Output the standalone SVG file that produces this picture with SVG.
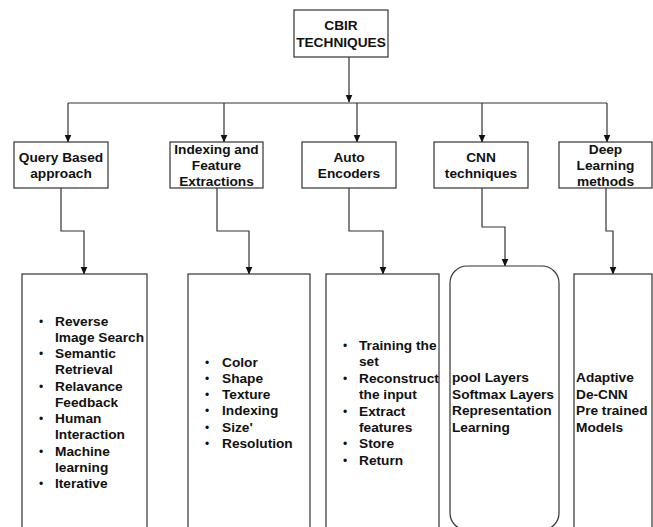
<svg xmlns="http://www.w3.org/2000/svg" width="653" height="527" viewBox="0 0 653 527">
  <defs>
    <marker id="arrow" viewBox="0 0 8 8" refX="7.5" refY="4" markerWidth="8" markerHeight="8" markerUnits="userSpaceOnUse" orient="auto">
      <path d="M0,0.5 L8,4 L0,7.5 Z" fill="#111"/>
    </marker>
  </defs>
  <style>
    .box { fill: #fff; stroke: #333; stroke-width: 1.2; }
    .edge { fill: none; stroke: #333; stroke-width: 1.2; marker-end: url(#arrow); }
    .link { fill: none; stroke: #333; stroke-width: 1.2; }
    text { font-family: "Liberation Sans", Arial, sans-serif; font-weight: bold; font-size: 13.7px; fill: #111; }
    .c { text-anchor: middle; }
    .dot { font-weight: normal; font-size: 12px; }
  </style>
  <rect width="653" height="527" fill="#fff"/>

  <!-- connectors -->
  <g id="connectors">
    <path class="edge" d="M349,57 V102"/>
    <path class="link" d="M68,103 H607"/>
    <path class="edge" d="M68,103 V142"/>
    <path class="edge" d="M224,103 V142"/>
    <path class="edge" d="M357,103 V142"/>
    <path class="edge" d="M482,103 V142"/>
    <path class="edge" d="M607,103 V142"/>
    <path class="edge" d="M61,188 V231 H84 V274"/>
    <path class="edge" d="M217,188 V231 H249 V274"/>
    <path class="edge" d="M349,188 V231 H383 V274"/>
    <path class="edge" d="M482,188 V227 H505 V266"/>
    <path class="edge" d="M606,188 V231 H613 V274"/>
  </g>

  <!-- root -->
  <g id="root">
    <rect class="box" x="294" y="10" width="94" height="47"/>
    <text class="c" x="341" y="30">CBIR</text>
    <text class="c" x="341" y="47">TECHNIQUES</text>
  </g>

  <!-- categories -->
  <g id="query">
    <rect class="box" x="14" y="142" width="94" height="46"/>
    <text class="c" x="61" y="162">Query Based</text>
    <text class="c" x="61" y="178">approach</text>
  </g>
  <g id="indexing">
    <rect class="box" x="170" y="142" width="93" height="46"/>
    <text class="c" x="216.5" y="154">Indexing and</text>
    <text class="c" x="216.5" y="170">Feature</text>
    <text class="c" x="216.5" y="186">Extractions</text>
  </g>
  <g id="auto">
    <rect class="box" x="302" y="142" width="94" height="46"/>
    <text class="c" x="349" y="162">Auto</text>
    <text class="c" x="349" y="178">Encoders</text>
  </g>
  <g id="cnn">
    <rect class="box" x="434" y="142" width="94" height="46"/>
    <text class="c" x="481" y="162">CNN</text>
    <text class="c" x="481" y="178">techniques</text>
  </g>
  <g id="deep">
    <rect class="box" x="559" y="142" width="93" height="46"/>
    <text class="c" x="605.5" y="154">Deep</text>
    <text class="c" x="605.5" y="170">Learning</text>
    <text class="c" x="605.5" y="186">methods</text>
  </g>

  <!-- detail panels -->
  <g id="query-items">
    <rect class="box" x="22" y="274" width="125" height="270"/>
    <g class="dot-col">
      <text class="dot" x="39" y="325.7">•</text>
      <text class="dot" x="39" y="358.2">•</text>
      <text class="dot" x="39" y="390.7">•</text>
      <text class="dot" x="39" y="423.2">•</text>
      <text class="dot" x="39" y="455.7">•</text>
      <text class="dot" x="39" y="488.2">•</text>
    </g>
    <text x="55" y="325.7">Reverse</text>
    <text x="55" y="341.9">Image Search</text>
    <text x="55" y="358.2">Semantic</text>
    <text x="55" y="374.4">Retrieval</text>
    <text x="55" y="390.7">Relavance</text>
    <text x="55" y="406.9">Feedback</text>
    <text x="55" y="423.2">Human</text>
    <text x="55" y="439.4">Interaction</text>
    <text x="55" y="455.7">Machine</text>
    <text x="55" y="471.9">learning</text>
    <text x="55" y="488.2">Iterative</text>
  </g>
  <g id="indexing-items">
    <rect class="box" x="188" y="274" width="122" height="270"/>
    <text class="dot" x="205" y="366.7">•</text>
    <text class="dot" x="205" y="382.9">•</text>
    <text class="dot" x="205" y="399.1">•</text>
    <text class="dot" x="205" y="415.3">•</text>
    <text class="dot" x="205" y="431.5">•</text>
    <text class="dot" x="205" y="447.7">•</text>
    <text x="222" y="366.7">Color</text>
    <text x="222" y="382.9">Shape</text>
    <text x="222" y="399.1">Texture</text>
    <text x="222" y="415.3">Indexing</text>
    <text x="222" y="431.5">Size'</text>
    <text x="222" y="447.7">Resolution</text>
  </g>
  <g id="auto-items">
    <rect class="box" x="326" y="274" width="113" height="270"/>
    <text class="dot" x="343" y="350">•</text>
    <text class="dot" x="343" y="382.8">•</text>
    <text class="dot" x="343" y="415.6">•</text>
    <text class="dot" x="343" y="448.4">•</text>
    <text class="dot" x="343" y="464.8">•</text>
    <text x="359" y="350">Training the</text>
    <text x="359" y="366.4">set</text>
    <text x="359" y="382.8">Reconstruct</text>
    <text x="359" y="399.2">the input</text>
    <text x="359" y="415.6">Extract</text>
    <text x="359" y="432">features</text>
    <text x="359" y="448.4">Store</text>
    <text x="359" y="464.8">Return</text>
  </g>
  <g id="cnn-items">
    <rect class="box" x="450" y="266" width="109" height="264" rx="17" ry="17"/>
    <text x="452" y="382.3">pool Layers</text>
    <text x="452" y="398.7">Softmax Layers</text>
    <text x="452" y="415.1">Representation</text>
    <text x="452" y="431.5">Learning</text>
  </g>
  <g id="deep-items">
    <rect class="box" x="574" y="274" width="78" height="270"/>
    <text x="576" y="382.3">Adaptive</text>
    <text x="576" y="398.7">De-CNN</text>
    <text x="576" y="415.1">Pre trained</text>
    <text x="576" y="431.5">Models</text>
  </g>
</svg>
